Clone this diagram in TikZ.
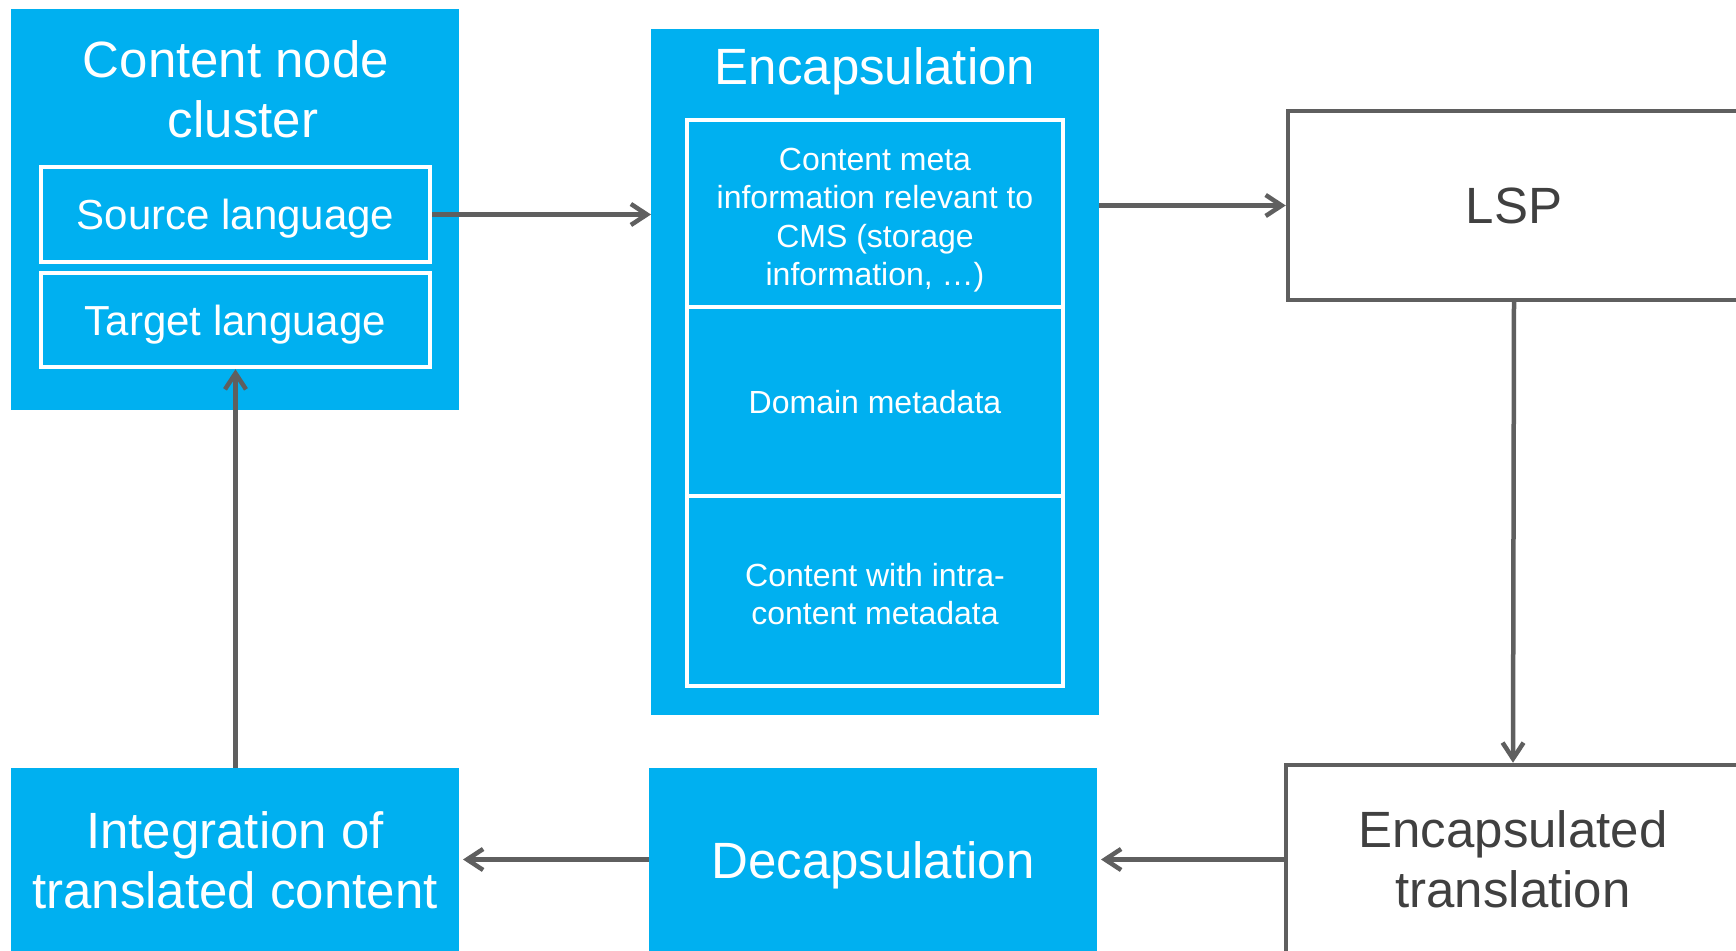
\documentclass[tikz,border=0pt]{standalone}
\usepackage{fontspec}
\setmainfont{Liberation Sans}
\usetikzlibrary{arrows.meta}
\definecolor{cyanfill}{HTML}{00B0F0}
\definecolor{linegray}{HTML}{5F5F5F}
\definecolor{textgray}{HTML}{404040}
\begin{document}
\begin{tikzpicture}[x=0.5pt,y=-0.5pt,
  bluebox/.style={fill=cyanfill, draw=none, inner sep=0pt, outer sep=0pt,
    text=white, align=center, font=\fontsize{25.5}{30}\selectfont},
  titletext/.style={text=white, align=center, inner sep=0pt,
    font=\fontsize{25.5}{30}\selectfont},
  langbox/.style={draw=white, line width=2.25pt, inner sep=0pt, text=white,
    text depth=0pt, minimum width=194.5pt, font=\fontsize{21}{25}\selectfont},
  cellbox/.style={draw=white, line width=2.25pt, inner sep=0pt, minimum width=188pt},
  celltext/.style={text=white, align=center, inner sep=0pt,
    font=\fontsize{16}{19.25}\selectfont},
  greybox/.style={draw=linegray, line width=2.25pt, fill=white, inner sep=0pt,
    text=textgray, align=center, font=\fontsize{25.5}{30}\selectfont},
  flow/.style={draw=linegray, line width=2.25pt,
    -{Straight Barb[length=8pt,width=10.5pt]}}
]
\useasboundingbox (0,0) rectangle (1736,951);
\clip (0,0) rectangle (1736,951);

% content node cluster
\node[bluebox, minimum width=224pt, minimum height=200.5pt] (cluster) at (235,209.5) {};
\node[titletext] (clustertitle) at (243,89.5) {Content node\hspace*{7pt}\\cluster};
\node[langbox, minimum height=47.5pt] (source) at (235.5,214.5) {Source language};
\node[langbox, minimum height=47pt] (target) at (235.5,320) {Target language};

% encapsulation with its three parts
\node[bluebox, minimum width=224pt, minimum height=343pt] (encap) at (875,372) {};
\node[titletext, anchor=base] (encaptitle) at (875,85) {Encapsulation};
\node[cellbox, minimum height=93.5pt] (meta) at (875,213.5) {};
\node[cellbox, minimum height=94.5pt] (domain) at (875,401.5) {};
\node[cellbox, minimum height=95pt] (intra) at (875,591) {};
\node[celltext] (metatext) at ([yshift=-3.2pt]meta.center)
  {Content meta\\information relevant to\\CMS (storage\\information, …)};
\node[celltext, text depth=0pt] (domaintext) at (domain.center) {Domain metadata};
\node[celltext] (intratext) at ([yshift=-1.5pt]intra.center) {Content with intra-\\content metadata};

% right column
\node[greybox, minimum width=226pt, minimum height=94.5pt, text depth=0pt] (lsp) at (1514,205.5) {LSP};
\node[greybox, minimum width=227pt, minimum height=94.5pt] (enctrans) at (1513,859.5)
  {Encapsulated\\translation};

% bottom row
\node[bluebox, minimum width=224pt, minimum height=92pt, text depth=0pt] (decap) at (873,860) {Decapsulation};
\node[bluebox, minimum width=224pt, minimum height=92pt] (integ) at (235,860)
  {Integration of\\translated content};

% flow
\draw[flow] (source.east) -- (encap.west |- source.east);
\draw[flow] (encap.east |- lsp.west) -- (lsp.west);
\draw[flow] (lsp.south) -- (enctrans.north);
\draw[flow, shorten >=2pt] (enctrans.west) -- (enctrans.west -| decap.east);
\draw[flow, shorten >=2pt] (decap.west |- enctrans.west) -- (integ.east |- enctrans.west);
\draw[flow] (target.south |- integ.north) -- (target.south);
\end{tikzpicture}
\end{document}
